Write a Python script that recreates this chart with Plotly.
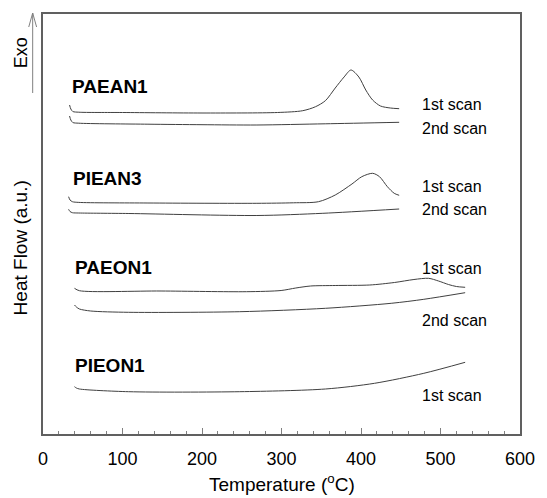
import plotly.graph_objects as go

# ---- data (temperature in °C, heat flow in arbitrary units) ----
paean1_1st_T = [33.4, 35, 37.5, 45, 100, 200, 295, 326.7, 342.8, 355.2, 367.6, 378.7, 387.4, 397.3, 406, 414.6, 424.5, 436.9, 448]
paean1_1st_H = [329, 325, 322.5, 321.8, 321.5, 321, 321.5, 323.3, 327.3, 333.3, 346, 357, 364, 357, 344, 334, 328, 326, 325.3]

paean1_2nd_T = [33.4, 35, 37.5, 45, 132, 200, 269, 355, 448]
paean1_2nd_H = [318, 314, 311.5, 310.8, 309.8, 309.3, 309, 310.2, 311.7]

piean3_1st_T = [32.2, 34, 37, 45, 132, 269, 315, 346.5, 367.6, 388.6, 401, 414.6, 423.3, 433.2, 441.8, 448]
piean3_1st_H = [237.3, 234, 232.3, 231.6, 231, 230.7, 231.2, 232.3, 239, 250, 257.3, 260.7, 257.3, 247.3, 240.7, 238.7]

piean3_2nd_T = [32.2, 34, 37, 45, 108, 269, 352, 448]
piean3_2nd_H = [224.7, 222.5, 221.3, 221, 220.5, 218.5, 220.7, 225]

paeon1_1st_T = [39.6, 45.8, 148.5, 256, 299.5, 318, 336.6, 367.6, 411, 442, 466.6, 485, 497.5, 510, 520, 531]
paeon1_1st_H = [145.7, 143.3, 143, 142.3, 143.5, 146, 148, 148.5, 149, 151.5, 154.5, 155.7, 153, 149.5, 147.5, 146.7]

paeon1_2nd_T = [39.6, 42, 45.8, 60, 107.7, 247.5, 355.2, 438, 479, 531]
paeon1_2nd_H = [129, 127, 125, 123, 121.7, 122.3, 125.7, 130.7, 134.7, 141.3]

pieon1_1st_T = [39.6, 42, 45.8, 107.7, 247.5, 355.2, 417, 479, 531]
pieon1_1st_H = [47.3, 46, 45, 42.3, 42.3, 45, 50.7, 60.7, 71.7]

sample_names = ["PAEAN1", "PIEAN3", "PAEON1", "PIEON1"]
sample_label_T = [33.4, 34.6, 37.5, 37.5]
sample_label_H = [348, 256, 167, 69]

scan_labels = ["1st scan", "2nd scan", "1st scan", "2nd scan", "1st scan", "2nd scan", "1st scan"]
scan_label_T = [474, 474, 474, 474, 474, 474, 474]
scan_label_H = [330, 306, 247.5, 225, 166, 114, 39]

x_ticks = [0, 100, 200, 300, 400, 500, 600]

FONT = "Liberation Sans, Arial, sans-serif"
LINE = "#404040"

fig = go.Figure()
curves = [
    (paean1_1st_T, paean1_1st_H), (paean1_2nd_T, paean1_2nd_H),
    (piean3_1st_T, piean3_1st_H), (piean3_2nd_T, piean3_2nd_H),
    (paeon1_1st_T, paeon1_1st_H), (paeon1_2nd_T, paeon1_2nd_H),
    (pieon1_1st_T, pieon1_1st_H),
]
for T, H in curves:
    fig.add_trace(go.Scatter(x=T, y=H, mode="lines",
                             line=dict(color=LINE, width=1, shape="spline", smoothing=0.8),
                             showlegend=False, hoverinfo="skip"))

annotations = []
for name, t, h in zip(sample_names, sample_label_T, sample_label_H):
    annotations.append(dict(x=t, y=h, xref="x", yref="y", text="<b>%s</b>" % name,
                            showarrow=False, xanchor="left", yanchor="middle",
                            font=dict(family=FONT, size=19, color="black")))
for lab, t, h in zip(scan_labels, scan_label_T, scan_label_H):
    annotations.append(dict(x=t, y=h, xref="x", yref="y", text=lab,
                            showarrow=False, xanchor="left", yanchor="middle",
                            font=dict(family=FONT, size=16, color="black")))

# plot area in pixels: x 43..528, y 14..434
L, R, TOP, BOT = 43, 528, 14, 434
W, Hh = R - L, BOT - TOP
def px(x):
    return (x - L) / W
def py(y):
    return (BOT - y) / Hh

annotations.append(dict(x=px(20), y=py(248), xref="paper", yref="paper",
                        text="Heat Flow (a.u.)", textangle=-90, showarrow=False,
                        xanchor="center", yanchor="middle",
                        font=dict(family=FONT, size=19, color="black")))
annotations.append(dict(x=px(21), y=py(53), xref="paper", yref="paper",
                        text="Exo", textangle=-90, showarrow=False,
                        xanchor="center", yanchor="middle",
                        font=dict(family=FONT, size=18, color="black")))
annotations.append(dict(x=0.5, y=py(497), xref="paper", yref="paper",
                        text="Temperature (<sup>o</sup>C)", showarrow=False,
                        xanchor="center", yanchor="bottom",
                        font=dict(family=FONT, size=19, color="black")))

shapes = [
    dict(type="line", xref="paper", yref="paper", x0=px(32.5), x1=px(32.5), y0=py(93), y1=py(13),
         line=dict(color="#808080", width=1)),
    dict(type="line", xref="paper", yref="paper", x0=px(28.5), x1=px(32.5), y0=py(27), y1=py(13),
         line=dict(color="#808080", width=1)),
    dict(type="line", xref="paper", yref="paper", x0=px(36.5), x1=px(32.5), y0=py(27), y1=py(13),
         line=dict(color="#808080", width=1)),
]

fig.update_layout(
    width=547, height=498,
    margin=dict(l=L, r=547 - R, t=TOP, b=498 - BOT),
    paper_bgcolor="white", plot_bgcolor="white",
    annotations=annotations, shapes=shapes,
    xaxis=dict(range=[0, 600], tickvals=x_ticks, ticks="inside", ticklen=6, tickwidth=1,
               tickcolor="#808080", showline=True, linecolor="#606060", linewidth=1.5,
               mirror=True, showgrid=False, zeroline=False,
               tickfont=dict(family=FONT, size=18, color="black"),
               ticklabelstandoff=8,
               minor=dict(dtick=20, ticks="inside", ticklen=3, tickcolor="#808080", showgrid=False)),
    yaxis=dict(range=[0, 420], showticklabels=False, ticks="", showline=True,
               linecolor="#606060", linewidth=1.5, mirror=True, showgrid=False, zeroline=False),
)

fig.write_html("out.html")
